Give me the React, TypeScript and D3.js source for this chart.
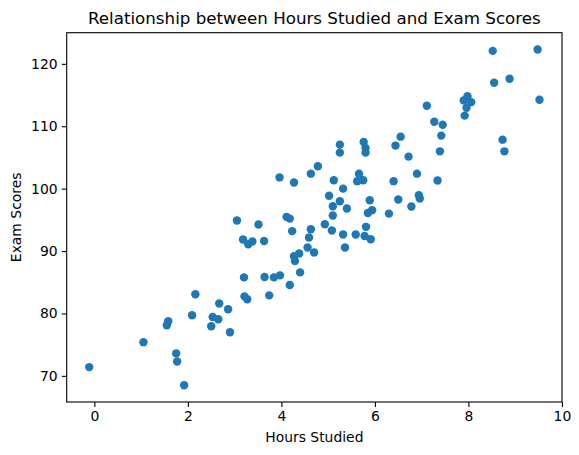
import React, { useRef, useEffect } from 'react';
import * as d3 from 'd3';

// Hours studied (x) and exam scores (y)
const hours: number[] = [
  -0.11, 1.05, 1.55, 1.58, 1.75, 1.77, 1.92, 2.16, 2.09, 3.05,
  3.18, 3.29, 3.38, 3.51, 3.20, 3.21, 3.27, 2.67, 2.86, 2.53,
  2.65, 2.50, 2.90, 5.25, 5.25, 5.76, 5.80, 5.80, 4.78, 4.63,
  3.96, 4.27, 5.12, 5.32, 5.66, 5.62, 5.75, 6.40, 5.02, 5.25,
  5.10, 5.10, 5.40, 5.89, 5.94, 5.85, 6.30, 6.50, 4.11, 4.18,
  4.23, 4.63, 4.59, 4.93, 5.08, 5.32, 5.36, 5.59, 5.81, 5.78,
  5.91, 3.63, 4.56, 4.70, 4.38, 4.27, 4.29, 3.64, 3.84, 3.97,
  4.40, 4.18, 3.74, 8.52, 9.48, 8.55, 8.88, 9.52, 7.11, 7.90,
  7.98, 8.06, 7.96, 7.92, 7.27, 7.45, 7.42, 7.39, 8.73, 8.77,
  6.55, 6.44, 6.72, 6.90, 7.34, 6.94, 6.96, 6.78,
];

const scores: number[] = [
  71.4, 75.4, 78.1, 78.75, 73.6, 72.3, 68.5, 83.07, 79.7, 94.9,
  91.86, 91.1, 91.54, 94.26, 85.78, 82.74, 82.27, 81.6, 80.67, 79.43,
  79.07, 77.95, 76.99, 105.77, 107.05, 107.47, 106.51, 105.77, 103.58, 102.4,
  101.8, 100.98, 101.35, 100.0, 102.4, 101.2, 101.35, 101.2, 98.86, 97.99,
  97.19, 95.7, 96.82, 98.15, 96.55, 96.1, 96.0, 98.26, 95.48, 95.2,
  93.19, 93.5, 92.18, 94.3, 93.3, 92.66, 90.58, 92.66, 93.88, 92.4,
  91.9, 91.6, 90.58, 89.78, 89.6, 89.17, 88.39, 85.83, 85.78, 86.1,
  86.58, 84.55, 82.9, 122.08, 122.3, 116.97, 117.6, 114.25, 113.29, 114.14,
  114.8, 113.86, 112.97, 111.7, 110.73, 110.25, 108.5, 105.98, 107.85, 105.98,
  108.33, 106.9, 105.13, 102.4, 101.3, 98.95, 98.42, 97.14,
];

const xTicks: number[] = [0, 2, 4, 6, 8, 10];
const yTicks: number[] = [70, 80, 90, 100, 110, 120];

const W = 579;
const H = 455;
const font = "'DejaVu Sans', sans-serif";

const App: React.FC = () => {
  const svgRef = useRef<SVGSVGElement>(null);

  useEffect(() => {
    if (!svgRef.current) return;
    const svg = d3.select(svgRef.current);
    svg.selectAll('*').remove();

    const left = 66.7, right = 562, top = 32.7, bottom = 402;

    // matplotlib-style 5% margins around the data
    const xExt = d3.extent(hours) as [number, number];
    const yExt = d3.extent(scores) as [number, number];
    const xPad = (xExt[1] - xExt[0]) * 0.05;
    const yPad = (yExt[1] - yExt[0]) * 0.05;

    const x = d3.scaleLinear().domain([xExt[0] - xPad, xExt[1] + xPad]).range([left, right]);
    const y = d3.scaleLinear().domain([yExt[0] - yPad, yExt[1] + yPad]).range([bottom, top]);

    svg.append('rect')
      .attr('width', W).attr('height', H).attr('fill', 'white');

    // points
    svg.append('g')
      .selectAll('circle')
      .data(hours.map((h, i) => [h, scores[i]]))
      .enter()
      .append('circle')
      .attr('cx', d => x(d[0]))
      .attr('cy', d => y(d[1]))
      .attr('r', 4.2)
      .attr('fill', '#1f77b4');

    // frame
    svg.append('rect')
      .attr('x', left).attr('y', top)
      .attr('width', right - left).attr('height', bottom - top)
      .attr('fill', 'none').attr('stroke', 'black').attr('stroke-width', 1.1);

    const xAxis = svg.append('g')
      .attr('transform', `translate(0,${bottom})`)
      .call(d3.axisBottom(x).tickValues(xTicks).tickSize(4.9).tickPadding(4.2).tickFormat(d3.format('d')));
    const yAxis = svg.append('g')
      .attr('transform', `translate(${left},0)`)
      .call(d3.axisLeft(y).tickValues(yTicks).tickSize(4.9).tickPadding(4.2).tickFormat(d3.format('d')));

    [xAxis, yAxis].forEach(g => {
      g.select('.domain').remove();
      g.selectAll('line').attr('stroke', 'black').attr('stroke-width', 1.1);
      g.selectAll('text')
        .attr('fill', 'black')
        .style('font-family', font)
        .style('font-size', '13.9px');
    });

    svg.append('text')
      .attr('x', (left + right) / 2)
      .attr('y', 24.4)
      .attr('text-anchor', 'middle')
      .style('font-family', font)
      .style('font-size', '16.7px')
      .text('Relationship between Hours Studied and Exam Scores');

    svg.append('text')
      .attr('x', (left + right) / 2)
      .attr('y', 442)
      .attr('text-anchor', 'middle')
      .style('font-family', font)
      .style('font-size', '13.9px')
      .text('Hours Studied');

    svg.append('text')
      .attr('transform', `translate(21,${(top + bottom) / 2}) rotate(-90)`)
      .attr('text-anchor', 'middle')
      .style('font-family', font)
      .style('font-size', '13.9px')
      .text('Exam Scores');
  }, []);

  return (
    <svg ref={svgRef} width={W} height={H}
      style={{ position: 'absolute', left: 0, top: 0 }} />
  );
};

export default App;
